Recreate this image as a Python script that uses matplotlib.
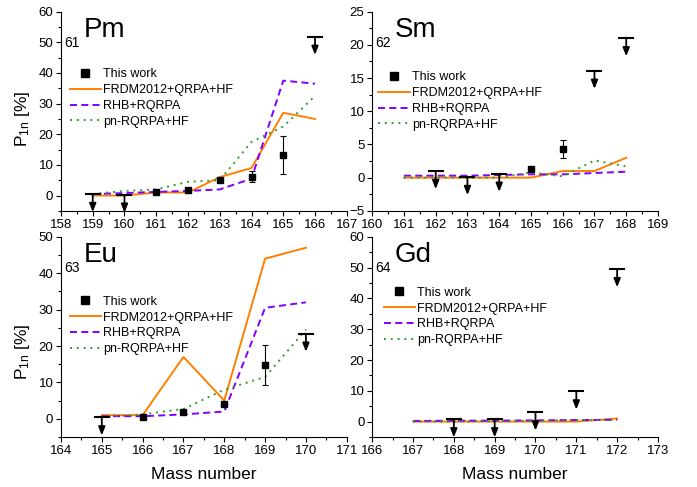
import matplotlib
matplotlib.use("Agg")
import matplotlib.pyplot as plt
import matplotlib.transforms as mtransforms
from matplotlib.ticker import MultipleLocator

plt.rcParams['font.family'] = ['Liberation Sans', 'DejaVu Sans']
plt.rcParams['mathtext.default'] = 'regular'

ORANGE = '#FF8000'
PURPLE = '#8000FF'
GREEN = '#2E9E2E'

# ---- Pm (Z=61)
pm_A = [159, 160, 161, 162, 163, 164, 165, 166]
pm_frdm = [0, 0, 1, 1, 6, 9, 27, 25]
pm_rhb = [0.5, 0.8, 1.2, 1.5, 2, 5.5, 37.5, 36.5]
pm_pn = [0.5, 1.5, 2, 4.5, 5, 17.5, 22.5, 32.5]
pm_exp_A = [161, 162, 163, 164, 165]
pm_exp = [1.1, 1.8, 5.0, 6.2, 13.2]
pm_err = [0, 0, 0, 1.7, 6.3]
pm_lim_A = [159, 160, 166]
pm_lim = [0.5, 0.3, 51.8]

# ---- Sm (Z=62)
sm_A = [161, 162, 163, 164, 165, 166, 167, 168]
sm_frdm = [0, 0, 0, 0, 0, 1, 1, 3]
sm_rhb = [0.3, 0.3, 0.3, 0.4, 0.5, 0.5, 0.7, 0.9]
sm_pn = [0, 0, 0, 0, 0.8, 0.2, 2.6, 1.7]
sm_exp_A = [165, 166]
sm_exp = [1.3, 4.3]
sm_err = [0, 1.3]
sm_lim_A = [162, 163, 164, 167, 168]
sm_lim = [1.0, 0.1, 0.6, 16.1, 21.0]

# ---- Eu (Z=63)
eu_A = [165, 166, 167, 168, 169, 170]
eu_frdm = [1, 1, 17, 5, 44, 47]
eu_rhb = [0.7, 0.7, 1.2, 2, 30.5, 32]
eu_pn = [0.5, 1.2, 2.7, 8, 11.5, 24.5]
eu_exp_A = [166, 167, 168, 169]
eu_exp = [0.6, 1.8, 4.0, 14.7]
eu_err = [0, 0, 0, 5.5]
eu_lim_A = [165, 170]
eu_lim = [0.4, 23.4]

# ---- Gd (Z=64)
gd_A = [167, 168, 169, 170, 171, 172]
gd_frdm = [0, 0, 0, 0, 0, 1]
gd_rhb = [0.2, 0.3, 0.3, 0.4, 0.5, 0.6]
gd_pn = [0, 0, 0.1, 0.2, 0.5, 0.5]
gd_exp_A = []
gd_exp = []
gd_err = []
gd_lim_A = [168, 169, 170, 171, 172]
gd_lim = [0.75, 0.75, 3.0, 9.8, 49.5]

panels = [
    dict(Z='61', el='Pm', A=pm_A, frdm=pm_frdm, rhb=pm_rhb, pn=pm_pn,
         eA=pm_exp_A, e=pm_exp, err=pm_err, lA=pm_lim_A, l=pm_lim,
         xlim=(158, 167), ylim=(-5, 60), ymaj=10, rect=[0.0875, 0.567, 0.410, 0.409],
         leg=(0.03, 0.715), ylab=0.46),
    dict(Z='62', el='Sm', A=sm_A, frdm=sm_frdm, rhb=sm_rhb, pn=sm_pn,
         eA=sm_exp_A, e=sm_exp, err=sm_err, lA=sm_lim_A, l=sm_lim,
         xlim=(160, 169), ylim=(-5, 25), ymaj=5, rect=[0.534, 0.567, 0.410, 0.409],
         leg=(0.022, 0.70), ylab=None),
    dict(Z='63', el='Eu', A=eu_A, frdm=eu_frdm, rhb=eu_rhb, pn=eu_pn,
         eA=eu_exp_A, e=eu_exp, err=eu_err, lA=eu_lim_A, l=eu_lim,
         xlim=(164, 171), ylim=(-5, 50), ymaj=10, rect=[0.0875, 0.1027, 0.410, 0.411],
         leg=(0.03, 0.705), ylab=0.425),
    dict(Z='64', el='Gd', A=gd_A, frdm=gd_frdm, rhb=gd_rhb, pn=gd_pn,
         eA=gd_exp_A, e=gd_exp, err=gd_err, lA=gd_lim_A, l=gd_lim,
         xlim=(166, 173), ylim=(-5, 60), ymaj=10, rect=[0.534, 0.1027, 0.410, 0.411],
         leg=(0.04, 0.75), ylab=None),
]

fig = plt.figure(figsize=(6.97, 4.87), dpi=100)

for i, p in enumerate(panels):
    ax = fig.add_axes(p['rect'])
    ax.spines['top'].set_visible(False)
    ax.spines['right'].set_visible(False)
    for s in ('left', 'bottom'):
        ax.spines[s].set_linewidth(0.8)

    ax.plot(p['A'], p['frdm'], color=ORANGE, lw=1.4, label='FRDM2012+QRPA+HF', zorder=3)
    ax.plot(p['A'], p['rhb'], color=PURPLE, lw=1.4, ls=(0, (3.6, 2.2)), label='RHB+RQRPA', zorder=3)
    ax.plot(p['A'], p['pn'], color=GREEN, lw=1.4, ls=(0, (1, 2.5)), label='pn-RQRPA+HF', zorder=3)

    # measured values
    ax.plot(p['eA'], p['e'], 's', color='k', ms=4.2, ls='none', label='This work', zorder=5)
    if p['eA']:
        ax.errorbar(p['eA'], p['e'], yerr=p['err'], fmt='none', ecolor='k',
                    elinewidth=0.8, capsize=2.5, capthick=0.8, zorder=4)

    # upper limits: bar at the limit with a downward arrow
    ax.plot(p['lA'], p['l'], '_', color='k', ms=11, mew=1.5, ls='none', zorder=6)
    down = ax.transData + mtransforms.ScaledTranslation(0, -13 / 72, fig.dpi_scale_trans)
    for a, v in zip(p['lA'], p['l']):
        ax.annotate('', xy=(a, v), xycoords=down, xytext=(a, v), textcoords='data',
                    arrowprops=dict(arrowstyle='-|>,head_length=0.5,head_width=0.2',
                                    color='k', lw=1.3, shrinkA=0, shrinkB=0,
                                    mutation_scale=10),
                    zorder=6, annotation_clip=False)

    ax.set_xlim(*p['xlim'])
    ax.set_ylim(*p['ylim'])
    ax.xaxis.set_major_locator(MultipleLocator(1))
    ax.xaxis.set_minor_locator(MultipleLocator(0.5))
    ax.yaxis.set_major_locator(MultipleLocator(p['ymaj']))
    ax.yaxis.set_minor_locator(MultipleLocator(p['ymaj'] / 2))
    ax.tick_params(which='major', direction='out', length=3.5, width=0.8, labelsize=9.5, pad=2)
    ax.tick_params(which='minor', direction='out', length=2, width=0.8)

    ax.text(0.012, 0.825, p['Z'], transform=ax.transAxes, fontsize=10, va='baseline', ha='left')
    ax.text(0.078, 0.875, p['el'], transform=ax.transAxes, fontsize=20, va='baseline', ha='left')

    handles, labels = ax.get_legend_handles_labels()
    order = [3, 0, 1, 2]
    ax.legend([handles[k] for k in order], [labels[k] for k in order],
              loc='upper left', bbox_to_anchor=p['leg'], frameon=False, fontsize=9,
              handlelength=2.5, handletextpad=0.2, labelspacing=0.3,
              borderpad=0, borderaxespad=0, markerscale=1.5)

    if p['ylab'] is not None:
        ax.set_ylabel('P$_{1n}$ [%]', fontsize=12.5)
        ax.yaxis.set_label_coords(-0.103, p['ylab'])
    if i >= 2:
        ax.set_xlabel('Mass number', fontsize=12.5)
        ax.xaxis.set_label_coords(0.5, -0.15)

fig.savefig('out.png', dpi=100)
